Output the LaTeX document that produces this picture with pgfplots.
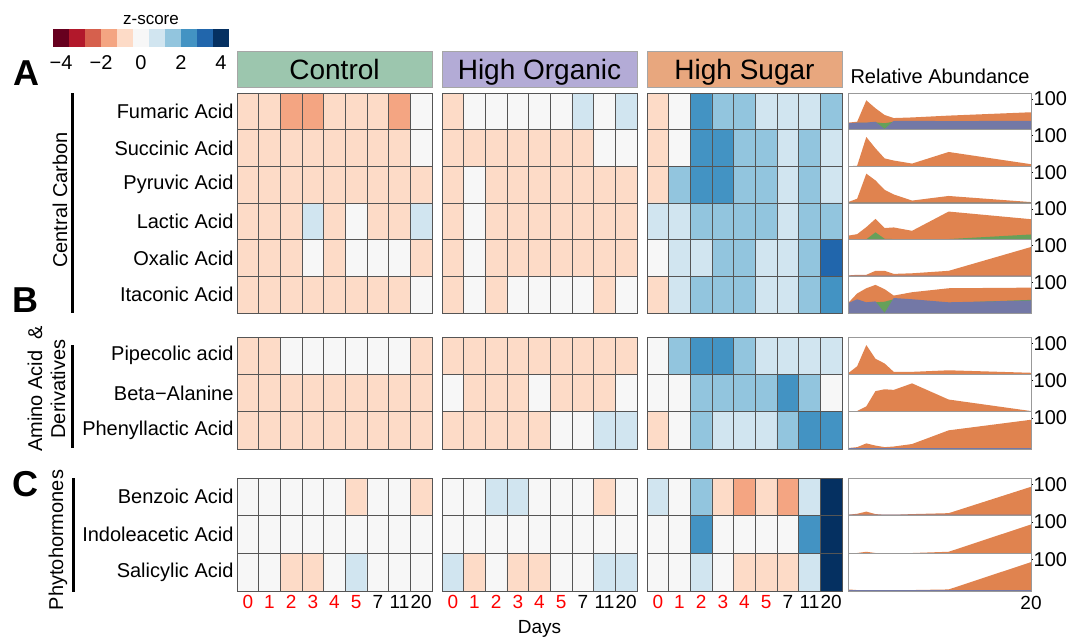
\documentclass[border=0pt]{standalone}
\usepackage{pgfplots}
\pgfplotsset{compat=1.18}
\usepackage{fontspec}
\setmainfont{Liberation Sans}
\definecolor{c1}{HTML}{67001F}
\definecolor{c2}{HTML}{B2182B}
\definecolor{c3}{HTML}{D6604D}
\definecolor{c4}{HTML}{F4A582}
\definecolor{c5}{HTML}{FDDBC7}
\definecolor{c6}{HTML}{F7F7F7}
\definecolor{c7}{HTML}{D1E5F0}
\definecolor{c8}{HTML}{92C5DE}
\definecolor{c9}{HTML}{4393C3}
\definecolor{c10}{HTML}{2166AC}
\definecolor{c11}{HTML}{053061}
\definecolor{hdrC}{HTML}{9CC6AE}
\definecolor{hdrO}{HTML}{B3ABD6}
\definecolor{hdrS}{HTML}{E8A77E}
\definecolor{arO}{HTML}{E0834F}
\definecolor{arG}{HTML}{66A05A}
\definecolor{arP}{HTML}{7378A6}
\definecolor{gridc}{HTML}{555555}
\newcommand\fs[1]{\fontsize{#1}{#1}\selectfont}
\tikzset{hdr/.style={at={(0.5,1)}, anchor=south, yshift=0pt, draw=gray!70, line width=0.5pt,
  minimum width=195pt, minimum height=36pt, inner sep=0pt, text height=22pt, text depth=0pt,
  font=\fs{28}}}
\pgfplotsset{
  colormap={rdbu}{color(0)=(c1) color(1)=(c2) color(2)=(c3) color(3)=(c4) color(4)=(c5) color(5)=(c6) color(6)=(c7) color(7)=(c8) color(8)=(c9) color(9)=(c10) color(10)=(c11)},
  hm/.style={scale only axis, anchor=north west, width=195pt,
    colormap name=rdbu, point meta min=-4, point meta max=4,
    xmin=-0.5, xmax=8.5, ymin=-0.5, y dir=reverse, enlargelimits=false,
    xtick={0,...,8}, minor x tick num=1, minor y tick num=1,
    xminorgrids=true, yminorgrids=true, minor grid style={gridc, line width=0.5pt},
    major tick length=0pt, minor tick length=0pt,
    axis line style={gridc, line width=0.6pt}, axis on top,
    xticklabels={}, yticklabels={},
    xticklabel style={font=\fs{19}, yshift=-1pt},
    yticklabel style={font=\fs{20}}},
  hmA/.style={hm, height=220pt, ymax=5.5, ytick={0,...,5}},
  hmB/.style={hm, height=112pt, ymax=2.5, ytick={0,1,2}},
  hmC/.style={hm, height=113pt, ymax=2.5, ytick={0,1,2},
    xticklabels={\textcolor{red}{0},\textcolor{red}{1},\textcolor{red}{2},\textcolor{red}{3},\textcolor{red}{4},\textcolor{red}{5},7,11,20}},
  ra/.style={scale only axis, anchor=north west, width=183pt,
    xmin=0, xmax=20, ymin=0, ymax=120, enlargelimits=false,
    axis line style={gray!80, line width=0.6pt}, axis on top,
    ytick={100}, yticklabels={100}, ytick pos=right, yticklabel pos=right,
    xtick=\empty, tick align=outside, major tick length=2pt,
    tick style={black, line width=0.6pt},
    yticklabel style={font=\fs{20}, inner sep=0.5pt},
    xticklabel style={font=\fs{19}}},
}
\newcommand\hmplot[1]{\addplot[matrix plot*, mesh/cols=9, point meta=explicit]
  table[row sep=\\, meta=z, x expr={\coordindex-9*floor((\coordindex+0.5)/9)}, y expr={floor((\coordindex+0.5)/9)}] {z\\ #1};}
\newcommand\RA[6]{%
\begin{axis}[ra, at={(848pt,-#2pt)}, height=#3pt, #1]
\addplot[fill=arO, draw=none] coordinates {#4} \closedcycle;
\addplot[fill=arG, draw=none] coordinates {#5} \closedcycle;
\addplot[fill=arP, draw=none] coordinates {#6} \closedcycle;
\end{axis}}
\def\flatA{(0,1) (1,1) (2,1) (3,1) (4,1) (5,1) (7,1) (11,1) (20,1)}
\begin{document}
\begin{tikzpicture}
\useasboundingbox (0,0) rectangle (1068pt,-637pt);
% ---------- colour bar ----------
\begin{axis}[scale only axis, anchor=north west, at={(53pt,-29pt)}, width=176pt, height=18pt,
  xmin=-4.4, xmax=4.4, ymin=-0.5, ymax=1.5, enlargelimits=false,
  axis line style={draw=none}, ytick=\empty, major tick length=0pt,
  xtick={-4,-2,0,2,4}, xticklabels={−4,−2,0,2,4},
  xticklabel style={font=\fs{20}, yshift=-5pt},
  colormap name=rdbu, point meta min=-4, point meta max=4]
\addplot[matrix plot*, mesh/cols=11, point meta=explicit] table[row sep=\\, meta=z] {
x y z\\ -4 0 -4\\ -3.2 0 -3.2\\ -2.4 0 -2.4\\ -1.6 0 -1.6\\ -0.8 0 -0.8\\ 0 0 0\\ 0.8 0 0.8\\ 1.6 0 1.6\\ 2.4 0 2.4\\ 3.2 0 3.2\\ 4 0 4\\
-4 1 -4\\ -3.2 1 -3.2\\ -2.4 1 -2.4\\ -1.6 1 -1.6\\ -0.8 1 -0.8\\ 0 1 0\\ 0.8 1 0.8\\ 1.6 1 1.6\\ 2.4 1 2.4\\ 3.2 1 3.2\\ 4 1 4\\};
\end{axis}
\node[font=\fs{17}] at (151pt,-20pt) {z-score};
% ---------- group A ----------
\begin{axis}[hmA, at={(237pt,-93pt)}, title=Control, title style={hdr, fill=hdrC},
  yticklabels={Fumaric Acid,Succinic Acid,Pyruvic Acid,Lactic Acid,Oxalic Acid,Itaconic Acid}]
\hmplot{-0.8\\ -0.8\\ -1.6\\ -1.6\\ -0.8\\ -0.8\\ -0.8\\ -1.6\\ 0\\
-0.8\\ -0.8\\ -0.8\\ -0.8\\ -0.8\\ -0.8\\ -0.8\\ -0.8\\ 0\\
-0.8\\ -0.8\\ -0.8\\ -0.8\\ -0.8\\ -0.8\\ -0.8\\ -0.8\\ -0.8\\
-0.8\\ -0.8\\ -0.8\\ 0.8\\ -0.8\\ 0\\ -0.8\\ -0.8\\ 0.8\\
-0.8\\ -0.8\\ -0.8\\ 0\\ -0.8\\ 0\\ 0\\ 0\\ -0.8\\
-0.8\\ -0.8\\ -0.8\\ -0.8\\ -0.8\\ -0.8\\ -0.8\\ -0.8\\ 0\\}
\end{axis}
\begin{axis}[hmA, at={(442pt,-93pt)}, title=High Organic, title style={hdr, fill=hdrO}]
\hmplot{-0.8\\ 0\\ 0\\ 0\\ 0\\ 0\\ 0.8\\ 0\\ 0.8\\
-0.8\\ -0.8\\ -0.8\\ -0.8\\ -0.8\\ -0.8\\ -0.8\\ 0\\ 0\\
-0.8\\ 0\\ -0.8\\ -0.8\\ -0.8\\ -0.8\\ -0.8\\ -0.8\\ -0.8\\
-0.8\\ 0\\ -0.8\\ -0.8\\ -0.8\\ -0.8\\ -0.8\\ -0.8\\ -0.8\\
-0.8\\ 0\\ -0.8\\ -0.8\\ -0.8\\ -0.8\\ -0.8\\ -0.8\\ -0.8\\
-0.8\\ 0\\ -0.8\\ 0\\ 0\\ 0\\ 0\\ -0.8\\ 0\\}
\end{axis}
\begin{axis}[hmA, at={(647pt,-93pt)}, title=High Sugar, title style={hdr, fill=hdrS}]
\hmplot{-0.8\\ 0\\ 2.4\\ 1.6\\ 1.6\\ 0.8\\ 0.8\\ 0.8\\ 1.6\\
-0.8\\ 0\\ 2.4\\ 2.4\\ 1.6\\ 1.6\\ 0.8\\ 1.6\\ 0.8\\
-0.8\\ 1.6\\ 2.4\\ 2.4\\ 1.6\\ 1.6\\ 0.8\\ 1.6\\ 0.8\\
0.8\\ 0.8\\ 1.6\\ 1.6\\ 1.6\\ 1.6\\ 0.8\\ 1.6\\ 1.6\\
0\\ 0.8\\ 0.8\\ 1.6\\ 1.6\\ 0.8\\ 0.8\\ 1.6\\ 3.2\\
-0.8\\ 0.8\\ 1.6\\ 1.6\\ 1.6\\ 0.8\\ 0.8\\ 1.6\\ 2.4\\}
\end{axis}
% ---------- group B ----------
\begin{axis}[hmB, at={(237pt,-337pt)},
  yticklabels={Pipecolic acid,Beta−Alanine,Phenyllactic Acid}]
\hmplot{-0.8\\ -0.8\\ 0\\ 0\\ 0\\ 0\\ 0\\ 0\\ -0.8\\
-0.8\\ -0.8\\ -0.8\\ -0.8\\ -0.8\\ -0.8\\ -0.8\\ -0.8\\ -0.8\\
-0.8\\ -0.8\\ -0.8\\ -0.8\\ -0.8\\ -0.8\\ -0.8\\ -0.8\\ -0.8\\}
\end{axis}
\begin{axis}[hmB, at={(442pt,-337pt)}]
\hmplot{-0.8\\ -0.8\\ -0.8\\ -0.8\\ -0.8\\ -0.8\\ -0.8\\ -0.8\\ -0.8\\
0\\ -0.8\\ -0.8\\ -0.8\\ 0\\ -0.8\\ -0.8\\ -0.8\\ 0\\
-0.8\\ -0.8\\ -0.8\\ -0.8\\ -0.8\\ 0\\ 0\\ 0.8\\ 0.8\\}
\end{axis}
\begin{axis}[hmB, at={(647pt,-337pt)}]
\hmplot{0\\ 1.6\\ 2.4\\ 2.4\\ 1.6\\ 0.8\\ 0.8\\ 0.8\\ 0.8\\
0\\ 0\\ 1.6\\ 1.6\\ 1.6\\ 1.6\\ 2.4\\ 1.6\\ 0\\
-0.8\\ 0\\ 1.6\\ 0.8\\ 0.8\\ 0.8\\ 1.6\\ 2.4\\ 2.4\\}
\end{axis}
% ---------- group C ----------
\begin{axis}[hmC, at={(237pt,-478pt)},
  yticklabels={Benzoic Acid,Indoleacetic Acid,Salicylic Acid}]
\hmplot{0\\ 0\\ 0\\ 0\\ 0\\ -0.8\\ 0\\ 0\\ -0.8\\
0\\ 0\\ 0\\ 0\\ 0\\ 0\\ 0\\ 0\\ 0\\
0\\ 0\\ -0.8\\ -0.8\\ 0\\ 0.8\\ 0\\ 0\\ 0\\}
\end{axis}
\begin{axis}[hmC, at={(442pt,-478pt)}]
\hmplot{0\\ 0\\ 0.8\\ 0.8\\ 0\\ 0\\ 0\\ -0.8\\ 0\\
0\\ 0\\ 0\\ 0\\ 0\\ 0\\ 0\\ 0\\ 0\\
0.8\\ -0.8\\ 0\\ -0.8\\ -0.8\\ 0\\ 0\\ 0.8\\ 0.8\\}
\end{axis}
\begin{axis}[hmC, at={(647pt,-478pt)}]
\hmplot{0.8\\ 0\\ 1.6\\ -0.8\\ -1.6\\ -0.8\\ -1.6\\ 0.8\\ 4\\
0\\ 0\\ 2.4\\ 0\\ 0\\ 0\\ 0\\ 2.4\\ 4\\
0\\ 0\\ 0.8\\ 0\\ -0.8\\ -0.8\\ -0.8\\ 0.8\\ 4\\}
\end{axis}
% ---------- relative abundance ----------
\RA{}{93}{36.667}
 {(0,23) (1,26) (2,96) (3,70) (4,48) (5,38) (7,40) (11,46) (20,57)}
 {(0,20) (1,22) (2,22) (3,24) (4,21) (5,26) (7,27) (11,26) (20,27)}
 {(0,21) (1,23) (2,23) (3,26) (4,2) (5,29) (7,29) (11,28) (20,29)}
\RA{}{129.667}{36.667}
 {(0,0) (1,2) (2,96) (3,59) (4,26) (5,19) (7,9) (11,47) (20,7)}
 {\flatA}{\flatA}
\RA{}{166.333}{36.667}
 {(0,3) (1,14) (2,96) (3,74) (4,43) (5,28) (7,8) (11,23) (20,3)}
 {\flatA}{\flatA}
\RA{}{203}{36.667}
 {(0,13) (1,18) (2,41) (3,68) (4,38) (5,40) (7,29) (11,92) (20,67)}
 {(0,1) (1,1) (2,1) (3,24) (4,3) (5,2) (7,2) (11,2) (20,17)}
 {\flatA}
\RA{}{239.667}{36.667}
 {(0,3) (1,5) (2,5) (3,18) (4,18) (5,8) (7,10) (11,18) (20,96)}
 {\flatA}{(0,2) (1,2) (2,2) (3,2) (4,2) (5,2) (7,2) (11,2) (20,2)}
\RA{}{276.333}{36.667}
 {(0,32) (1,64) (2,81) (3,92) (4,78) (5,57) (7,68) (11,81) (20,83)}
 {(0,30) (1,40) (2,32) (3,35) (4,37) (5,45) (7,42) (11,33) (20,43)}
 {(0,32) (1,45) (2,35) (3,38) (4,0) (5,49) (7,45) (11,35) (20,41)}
\RA{}{337}{37.333}
 {(0,3) (1,26) (2,94) (3,50) (4,35) (5,8) (7,8) (11,13) (20,5)}
 {\flatA}{\flatA}
\RA{}{374.333}{37.333}
 {(0,0) (1,2) (2,17) (3,66) (4,72) (5,70) (7,91) (11,39) (20,2)}
 {\flatA}{\flatA}
\RA{}{411.667}{37.333}
 {(0,3) (1,6) (2,18) (3,11) (4,6) (5,8) (7,16) (11,60) (20,94)}
 {\flatA}{(0,3) (1,3) (2,3) (3,3) (4,3) (5,3) (7,3) (11,3) (20,3)}
\RA{}{478}{37.667}
 {(0,3) (1,6) (2,13) (3,5) (4,3) (5,3) (7,5) (11,8) (20,92)}
 {(0,2) (1,2) (2,2) (3,2) (4,2) (5,2) (7,2) (11,2) (20,2)}
 {(0,3) (1,3) (2,3) (3,3) (4,3) (5,3) (7,3) (11,3) (20,3)}
\RA{}{515.667}{37.667}
 {(0,1) (1,1) (2,5) (3,1) (4,1) (5,1) (7,1) (11,5) (20,92)}
 {\flatA}{\flatA}
\RA{xtick={20}, xticklabels={20}, xtick style={draw=none}}{553.333}{37.667}
 {(0,5) (1,3) (2,3) (3,2) (4,2) (5,3) (7,3) (11,5) (20,92)}
 {(0,2) (1,2) (2,2) (3,2) (4,2) (5,2) (7,2) (11,2) (20,2)}
 {(0,3) (1,3) (2,3) (3,3) (4,3) (5,3) (7,3) (11,3) (20,3)}
\node[font=\fs{20}] at (940pt,-76pt) {Relative Abundance};
% ---------- left annotations ----------
\node[font=\bfseries\fs{36}] at (26pt,-73pt) {A};
\node[font=\bfseries\fs{36}] at (25pt,-300pt) {B};
\node[font=\bfseries\fs{36}] at (25pt,-484pt) {C};
\draw[line width=3pt] (72pt,-93pt) -- (72pt,-313pt);
\draw[line width=3pt] (72pt,-345pt) -- (72pt,-448pt);
\draw[line width=3pt] (73pt,-478pt) -- (73pt,-592pt);
\node[rotate=90, font=\fs{20}] at (60pt,-200pt) {Central Carbon};
\node[rotate=90, align=center, font=\fontsize{20}{23}\selectfont] at (46.5pt,-389pt) {Amino Acid \ \&\\Derivatives};
\node[rotate=90, font=\fs{20}] at (58pt,-540pt) {Phytohormones};
\node[font=\fs{19}, anchor=base] at (539.5pt,-633pt) {Days};
\end{tikzpicture}
\end{document}
